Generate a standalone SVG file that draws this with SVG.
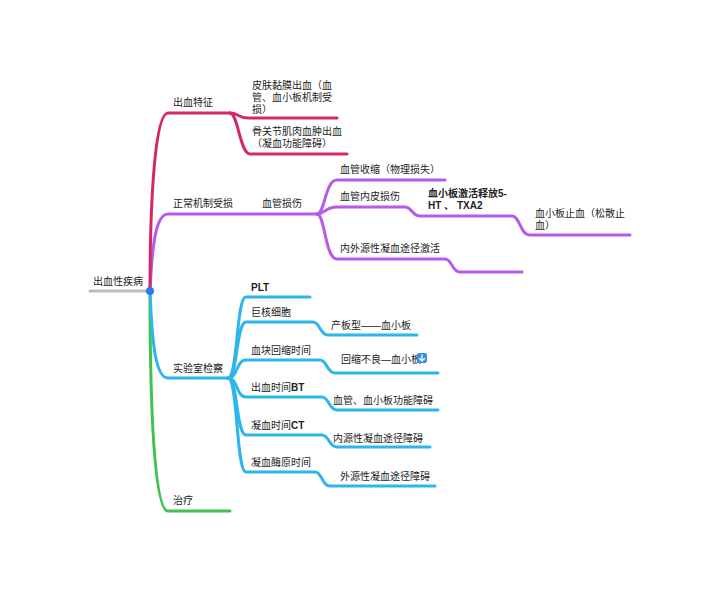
<svg xmlns="http://www.w3.org/2000/svg" width="720" height="604" viewBox="0 0 720 604">
<style>
text{font-family:"Liberation Sans","Noto Sans CJK SC",sans-serif;font-size:10px;fill:#222}
.b{font-weight:bold}
path{fill:none;stroke-width:3;stroke-linecap:round}
.r{stroke:#d6266a}.p{stroke:#b65be8}.c{stroke:#2db6ec}.g{stroke:#3fc24e}
</style>
<rect width="720" height="604" fill="#fff"/>
<g id="connectors">
<path d="M90 291H148" stroke="#bbb" style="stroke-width:3"/>
<path class="g" d="M150 291C150 420 155 511 168 511H230"/>
<path class="c" d="M150 291C152 340 155 378 168 378H228"/>
<path class="p" d="M150 291C152 250 155 214 168 214H317"/>
<path class="r" d="M150 291C150 200 155 113 168 113H230"/>
<path class="r" d="M230 113C238 113 238 118 248 118H337"/>
<path class="r" d="M230 113C238 113 240 154 250 154H347"/>
<path class="p" d="M317 214C325 214 325 180 337 180H445"/>
<path class="p" d="M317 214C325 214 325 207 337 207H405C412 207 412 216 420 216H512C520 216 520 235 530 235H630"/>
<path class="p" d="M317 214C325 214 325 259 337 259H445C452 259 452 272 460 272H522"/>
<path class="c" d="M228 378C238 378 236 297 246 297H310"/>
<path class="c" d="M228 378C238 378 236 322 246 322H313C320 322 320 335 328 335H417"/>
<path class="c" d="M228 378C238 378 236 360 246 360H320C327 360 327 373 335 373H438"/>
<path class="c" d="M228 378C238 378 236 397 246 397H322C329 397 329 410 337 410H438"/>
<path class="c" d="M228 378C238 378 236 435 246 435H322C329 435 329 447 337 447H430"/>
<path class="c" d="M228 378C238 378 236 472 246 472H315C322 472 322 486 330 486H435"/>
</g>
<g id="root"><text x="93" y="285">出血性疾病</text><circle cx="150" cy="291" r="4" fill="#2a7cf0"/></g>
<g id="n1"><text x="173" y="106">出血特征</text></g>
<g id="n1a"><text x="252" y="89">皮肤黏膜出血（血</text><text x="252" y="101">管、血小板机制受</text><text x="252" y="113">损）</text></g>
<g id="n1b"><text x="252" y="135">骨关节肌肉血肿出血</text><text x="252" y="147">（凝血功能障碍）</text></g>
<g id="n2"><text x="173" y="207">正常机制受损</text></g>
<g id="n2a"><text x="262" y="207">血管损伤</text></g>
<g id="n2b"><text x="340" y="173">血管收缩（物理损失）</text></g>
<g id="n2c"><text x="340" y="200">血管内皮损伤</text></g>
<g id="n2d"><text x="428" y="197" class="b">血小板激活释放5-</text><text x="428" y="209" class="b">HT 、 TXA2</text></g>
<g id="n2e"><text x="535" y="217">血小板止血（松散止</text><text x="535" y="229">血）</text></g>
<g id="n2f"><text x="340" y="252">内外源性凝血途径激活</text></g>
<g id="n3"><text x="173" y="372">实验室检察</text></g>
<g id="n3a"><text x="251" y="291" class="b">PLT</text></g>
<g id="n3b"><text x="251" y="316">巨核细胞</text></g>
<g id="n3c"><text x="331" y="329">产板型——血小板</text></g>
<g id="n3d"><text x="251" y="354">血块回缩时间</text></g>
<g id="n3e"><text x="341" y="363">回缩不良—血小板</text><rect x="417" y="353" width="10" height="10" rx="2" fill="#3d8fe0"/><path d="M422 355V361M419.5 358.5L422 361L424.5 358.5" stroke="#fff" style="stroke-width:1.3"/></g>
<g id="n3f"><text x="251" y="391">出血时间<tspan class="b">BT</tspan></text></g>
<g id="n3g"><text x="333" y="404">血管、血小板功能障碍</text></g>
<g id="n3h"><text x="251" y="429">凝血时间<tspan class="b">CT</tspan></text></g>
<g id="n3i"><text x="333" y="442">内源性凝血途径障碍</text></g>
<g id="n3j"><text x="251" y="466">凝血酶原时间</text></g>
<g id="n3k"><text x="340" y="480">外源性凝血途径障碍</text></g>
<g id="n4"><text x="173" y="504">治疗</text></g>
</svg>
